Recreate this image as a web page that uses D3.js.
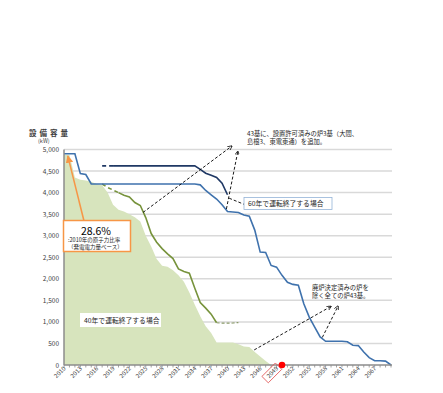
<!DOCTYPE html>
<html>
<head>
<meta charset="utf-8">
<script src="https://cdn.jsdelivr.net/npm/d3@7"></script>
<style>
  body { margin: 0; background: #fff; }
  svg { font-family: "Noto Sans CJK JP", "Noto Sans", sans-serif; }
</style>
</head>
<body>
<script>
// 年（カテゴリ）
const years = [2010,2011,2012,2013,2014,2015,2016,2017,2018,2019,
  2020,2021,2022,2023,2024,2025,2026,2027,2028,2029,
  2030,2031,2032,2033,2034,2035,2036,2037,2038,2039,
  2040,2041,2042,2043,2044,2045,2046,2047,2048,2049,
  2050,2051,2052,2053,2054,2055,2056,2057,2058,2059,
  2060,2061,2062,2063,2064,2065,2066,2067,2068,2069,2070];

// 40年で運転終了する場合（面）
const area40 = [4880,4880,4350,4300,4280,4250,4200,4170,4000,3720,
  3600,3560,3500,3430,3330,3000,2750,2460,2300,2280,
  2200,2080,1930,1680,1400,1130,900,740,520,520,
  520,520,480,430,420,300,200,90,0,null,
  null,null,null,null,null,null,null,null,null,null,
  null,null,null,null,null,null,null,null,null,null,null];

// 40年 + 設置許可済み3基
const line40plus = [null,null,null,null,null,null,null,4200,4120,4060,
  4000,3940,3900,3770,3700,3420,3050,2850,2700,2580,
  2470,2230,2170,2130,1780,1450,1320,1180,980,970,
  970,975,985,null,null,null,null,null,null,null,
  null,null,null,null,null,null,null,null,null,null,
  null,null,null,null,null,null,null,null,null,null,null];

// 60年で運転終了する場合
const line60 = [4900,4900,4900,4440,4420,4200,4200,4200,4200,4200,
  4200,4200,4200,4200,4200,4200,4200,4200,4200,4200,
  4200,4200,4200,4200,4200,4180,4050,3950,3850,3720,
  3560,3550,3540,3480,3450,3130,2620,2610,2310,2270,
  2080,1920,1870,1850,1420,1110,880,650,550,550,
  550,550,540,460,450,300,170,100,100,90,0];

// 60年 + 設置許可済み3基
const line60plus = [null,null,null,null,null,null,null,4620,4620,4620,
  4620,4620,4620,4620,4620,4620,4620,4620,4620,4620,
  4620,4620,4620,4620,4620,4540,4450,4400,4350,4220,
  3950,null,null,null,null,null,null,null,null,null,
  null,null,null,null,null,null,null,null,null,null,
  null,null,null,null,null,null,null,null,null,null,null];

const yTicks = [0,500,1000,1500,2000,2500,3000,3500,4000,4500,5000];
const labelYears = [2010,2013,2016,2019,2022,2025,2028,2031,2034,2037,2040,
  2043,2046,2049,2052,2055,2058,2061,2064,2067];
const markedYear = 2049;
const dotYear = 2050;

const width = 443, height = 393;

const svg = d3.select('body').append('svg')
  .attr('width', width)
  .attr('height', height);

// スケール
const x = d3.scaleLinear().domain([2010, 2070]).range([64, 391]);
const y = d3.scaleLinear().domain([0, 5000]).range([365, 149.5]);

const rows = years.map((yr, i) => ({
  year: yr, a40: area40[i], l40: line40plus[i], l60: line60[i], l60p: line60plus[i]
}));

// グリッド線
svg.append('g')
  .selectAll('line')
  .data(yTicks.filter(d => d > 0))
  .enter()
  .append('line')
  .attr('x1', x(2010))
  .attr('x2', x(2070) + 1)
  .attr('y1', d => y(d))
  .attr('y2', d => y(d))
  .attr('stroke', '#d9d9d9')
  .attr('stroke-width', 1.5);

// 40年の面
svg.append('path')
  .datum(rows.filter(d => d.a40 != null))
  .attr('fill', '#d7e4bd')
  .attr('d', d3.area().x(d => x(d.year)).y0(y(0)).y1(d => y(d.a40)));

// 線を描く
function drawLine(key, color, w, from, to, dash) {
  const part = rows.filter(d => d[key] != null && d.year >= from && d.year <= to);
  svg.append('path')
    .datum(part)
    .attr('fill', 'none')
    .attr('stroke', color)
    .attr('stroke-width', w)
    .attr('stroke-dasharray', dash)
    .attr('d', d3.line().x(d => x(d.year)).y(d => y(d[key])));
}

drawLine('l40', '#77933c', 1.6, 2017, 2020, '4,3');
drawLine('l40', '#77933c', 1.6, 2020, 2038, null);
drawLine('l40', '#8a9a6a', 1.2, 2038, 2042, '3,2');
drawLine('l60', '#3f72ad', 1.6, 2010, 2070, null);
drawLine('l60p', '#1f3864', 1.6, 2017, 2019, '4,3');
drawLine('l60p', '#1f3864', 1.6, 2019, 2040, null);

// 軸
svg.append('line')
  .attr('x1', x(2010)).attr('x2', x(2070) + 1)
  .attr('y1', y(0)).attr('y2', y(0))
  .attr('stroke', '#8c8c8c').attr('stroke-width', 1.5);
svg.append('line')
  .attr('x1', x(2010)).attr('x2', x(2010))
  .attr('y1', y(5000)).attr('y2', y(0))
  .attr('stroke', '#8c8c8c').attr('stroke-width', 1.5);

// 目盛り（毎年）
svg.append('g')
  .selectAll('line')
  .data(years)
  .enter()
  .append('line')
  .attr('x1', d => x(d)).attr('x2', d => x(d))
  .attr('y1', y(0)).attr('y2', y(0) + 2.5)
  .attr('stroke', '#8c8c8c').attr('stroke-width', 0.8);

// y軸ラベル
svg.append('g')
  .selectAll('text')
  .data(yTicks)
  .enter()
  .append('text')
  .attr('x', 59)
  .attr('y', d => y(d) + 2.5)
  .attr('text-anchor', 'end')
  .attr('font-size', 6.5)
  .attr('fill', '#404040')
  .text(d3.format(','));

// x軸ラベル（45度）
const xl = svg.append('g')
  .selectAll('g')
  .data(labelYears)
  .enter()
  .append('g')
  .attr('transform', d => `translate(${x(d) + 2},${y(0) + 4}) rotate(-45)`);
xl.filter(d => d === markedYear)
  .append('rect')
  .attr('x', -17).attr('y', -6.5)
  .attr('width', 19).attr('height', 9)
  .attr('fill', 'none')
  .attr('stroke', '#e05050').attr('stroke-width', 0.8);
xl.append('text')
  .attr('text-anchor', 'end')
  .attr('font-size', 6)
  .attr('fill', '#404040')
  .text(d => d);

// 赤い点
svg.append('circle')
  .attr('cx', x(dotYear)).attr('cy', y(0))
  .attr('r', 3.3)
  .attr('fill', '#ff0000');

// 軸タイトル
svg.append('text')
  .attr('x', 29).attr('y', 136)
  .attr('font-size', 7.5)
  .attr('font-weight', 'bold')
  .attr('fill', '#404040')
  .attr('letter-spacing', 3)
  .text('設備容量');
svg.append('text')
  .attr('x', 38).attr('y', 143)
  .attr('font-size', 5.5)
  .attr('fill', '#404040')
  .text('(kW)');

// 矢印マーカー
const defs = svg.append('defs');
defs.append('marker')
  .attr('id', 'ah')
  .attr('viewBox', '0 0 10 10')
  .attr('refX', 9).attr('refY', 5)
  .attr('markerWidth', 5).attr('markerHeight', 5)
  .attr('orient', 'auto')
  .append('path')
  .attr('d', 'M0,0L10,5L0,10')
  .attr('fill', 'none')
  .attr('stroke', '#000')
  .attr('stroke-width', 1.6);
defs.append('marker')
  .attr('id', 'ahOrange')
  .attr('viewBox', '0 0 10 10')
  .attr('refX', 9).attr('refY', 5)
  .attr('markerWidth', 5).attr('markerHeight', 5)
  .attr('orient', 'auto')
  .append('path')
  .attr('d', 'M0,0L10,5L0,10Z')
  .attr('fill', '#f79646');

// 点線の矢印（年, 値）
const arrows = [
  [[2024.5, 3540], [2040.8, 5080], true],
  [[2039.8, 3620], [2041.9, 4960], true],
  [[2040.3, 3870], [2043.0, 3730], false],
  [[2044.9, 350], [2059.0, 1360], true],
  [[2057.4, 640], [2060.3, 1370], true]
];
arrows.forEach(([a, b, head]) => {
  svg.append('line')
    .attr('x1', x(a[0])).attr('y1', y(a[1]))
    .attr('x2', x(b[0])).attr('y2', y(b[1]))
    .attr('stroke', '#000')
    .attr('stroke-width', 0.9)
    .attr('stroke-dasharray', '3,2')
    .attr('marker-end', head ? 'url(#ah)' : null);
});

// 注記テキスト
function note(lines, x0, y0, size, lh) {
  const t = svg.append('text')
    .attr('font-size', size)
    .attr('fill', '#262626');
  lines.forEach((s, i) => {
    t.append('tspan').attr('x', x0).attr('y', y0 + i * lh).text(s);
  });
}
note(['43基に、設置許可済みの炉3基（大間、', '島根3、東電東通）を追加。'], 247, 135.5, 6.3, 8);
note(['廃炉決定済みの炉を', '除く全ての炉43基。'], 312, 289.5, 6.3, 8);

// 60年ラベル
svg.append('rect')
  .attr('x', 244).attr('y', 197.5)
  .attr('width', 88).attr('height', 12)
  .attr('fill', '#fff')
  .attr('stroke', '#95b3d7').attr('stroke-width', 0.8);
svg.append('text')
  .attr('x', 248).attr('y', 206)
  .attr('font-size', 6.8)
  .attr('fill', '#262626')
  .text('60年で運転終了する場合');

// 40年ラベル
svg.append('rect')
  .attr('x', 80).attr('y', 313)
  .attr('width', 81).attr('height', 14)
  .attr('fill', '#fff');
svg.append('text')
  .attr('x', 84).attr('y', 323)
  .attr('font-size', 6.8)
  .attr('fill', '#262626')
  .text('40年で運転終了する場合');

// 28.6% の吹き出し
svg.append('line')
  .attr('x1', 84).attr('y1', 221)
  .attr('x2', x(2010.7)).attr('y2', y(4850))
  .attr('stroke', '#f79646')
  .attr('stroke-width', 1.5)
  .attr('marker-end', 'url(#ahOrange)');
svg.append('rect')
  .attr('x', 63.5).attr('y', 220.5)
  .attr('width', 67).attr('height', 31)
  .attr('fill', '#fff')
  .attr('stroke', '#f79646').attr('stroke-width', 1.5);
svg.append('text')
  .attr('x', 96).attr('y', 234.5)
  .attr('text-anchor', 'middle')
  .attr('font-size', 10.5)
  .attr('fill', '#000')
  .text('28.6%');
note([':2010年の原子力比率'], 68, 242, 5.5, 7);
note(['（発電電力量ベース）'], 68, 249, 5.5, 7);
</script>
</body>
</html>
